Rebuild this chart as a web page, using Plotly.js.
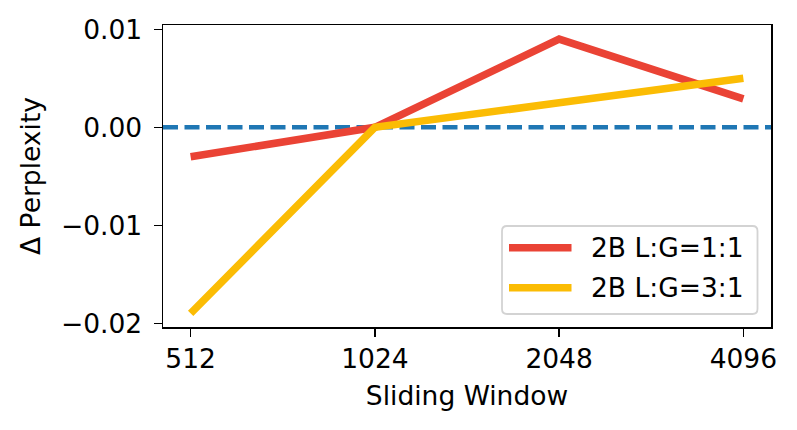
<!DOCTYPE html>
<html>
<head>
<meta charset="utf-8">
<script src="https://cdn.plot.ly/plotly-3.0.1.min.js"></script>
<style>html,body{margin:0;padding:0;background:#fff;}#chart{width:797px;height:430px;}</style>
</head>
<body>
<div id="chart"></div>
<script>
const windows = ['512', '1024', '2048', '4096'];
const ratio11 = [-0.0030, 0.0000, 0.0090, 0.0029];
const ratio31 = [-0.0190, 0.0000, 0.0025, 0.0050];
const seriesNames = ['2B L:G=1:1', '2B L:G=3:1'];
const seriesColors = ['#EA4335', '#FBBC04'];
const yTickVals = [-0.02, -0.01, 0.0, 0.01];
const yTickText = ['\u22120.02', '\u22120.01', '0.00', '0.01'];

const FONT = 'DejaVu Sans, sans-serif';
const FS = 26.5;
const W = 797, H = 430;
const M = {l: 163, r: 26, t: 25, b: 103};
const PW = W - M.l - M.r, PH = H - M.t - M.b;
const px = p => (p - M.l) / PW;
const py = p => (H - M.b - p) / PH;

const traces = [
  {x: windows, y: ratio11, type: 'scatter', mode: 'lines', name: seriesNames[0],
   line: {color: seriesColors[0], width: 7.5}},
  {x: windows, y: ratio31, type: 'scatter', mode: 'lines', name: seriesNames[1],
   line: {color: seriesColors[1], width: 7.5}}
];

// custom legend (matplotlib style, rounded frame)
const lg = {x0: 502, x1: 757.5, y0: 226, y1: 314, r: 5};
function roundRect(b) {
  const rx = b.r / PW, ry = b.r / PH;
  const X0 = px(b.x0), X1 = px(b.x1), Y0 = py(b.y1), Y1 = py(b.y0);
  return `M${X0 + rx},${Y0} L${X1 - rx},${Y0} Q${X1},${Y0} ${X1},${Y0 + ry} ` +
    `L${X1},${Y1 - ry} Q${X1},${Y1} ${X1 - rx},${Y1} L${X0 + rx},${Y1} ` +
    `Q${X0},${Y1} ${X0},${Y1 - ry} L${X0},${Y0 + ry} Q${X0},${Y0} ${X0 + rx},${Y0} Z`;
}
const rowY = [247.8, 287.8];
const shapes = [
  {type: 'line', xref: 'paper', x0: 0, x1: 1, yref: 'y', y0: 0, y1: 0,
   line: {color: '#1f77b4', width: 4.5, dash: '15px,6.5px'}, layer: 'below'},
  {type: 'path', xref: 'paper', yref: 'paper', path: roundRect(lg),
   fillcolor: 'rgba(255,255,255,0.85)', line: {color: '#d3d3d3', width: 1.8}, layer: 'above'}
];
const annotations = [];
seriesNames.forEach((nm, i) => {
  shapes.push({type: 'line', xref: 'paper', yref: 'paper',
    x0: px(509), x1: px(571.5), y0: py(rowY[i]), y1: py(rowY[i]),
    line: {color: seriesColors[i], width: 7.5}, layer: 'above'});
  annotations.push({xref: 'paper', yref: 'paper', x: px(589), y: py(rowY[i]),
    xanchor: 'left', yanchor: 'middle', text: nm, showarrow: false,
    font: {family: FONT, size: FS, color: '#000'}});
});

const layout = {
  width: W, height: H, margin: M,
  paper_bgcolor: '#fff', plot_bgcolor: '#fff',
  font: {family: FONT, size: FS, color: '#000'},
  showlegend: false,
  xaxis: {type: 'category', range: [-0.15, 3.15], showgrid: false, zeroline: false,
    showline: true, mirror: true, linecolor: '#000', linewidth: 1.5,
    ticks: 'outside', ticklen: 8, tickwidth: 1.5, tickcolor: '#000',
    tickfont: {family: FONT, size: FS},
    title: {text: 'Sliding Window', font: {family: FONT, size: FS}, standoff: 13}},
  yaxis: {range: [-0.02038, 0.01044], showgrid: false, zeroline: false,
    showline: true, mirror: true, linecolor: '#000', linewidth: 1.5,
    ticks: 'outside', ticklen: 8, tickwidth: 1.5, tickcolor: '#000',
    tickvals: yTickVals, ticktext: yTickText, ticklabelstandoff: 6,
    tickfont: {family: FONT, size: FS},
    title: {text: '\u0394 Perplexity', font: {family: FONT, size: FS}, standoff: 12}},
  shapes: shapes,
  annotations: annotations
};
Plotly.newPlot('chart', traces, layout, {staticPlot: true});
</script>
</body>
</html>
